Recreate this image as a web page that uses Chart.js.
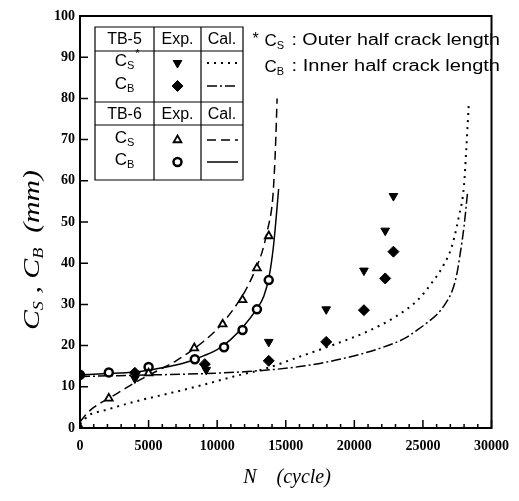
<!DOCTYPE html>
<html><head><meta charset="utf-8">
<script src="https://cdn.jsdelivr.net/npm/chart.js@4/dist/chart.umd.min.js"></script>
<style>html,body{margin:0;padding:0;background:#fff;}#wrap{width:519px;height:501px;}</style>
</head><body><div id="wrap"><canvas id="c" width="519" height="501"></canvas></div>
<script>
// ---- data ----
const xTickValues = [0, 5000, 10000, 15000, 20000, 25000, 30000];
const yTickValues = [0, 10, 20, 30, 40, 50, 60, 70, 80, 90, 100];

// experimental points
const tb5CsExpN = [4000, 9200, 13760, 17950, 20700, 22250, 22850];
const tb5CsExpC = [12.0, 14.1, 20.9, 28.8, 38.2, 47.9, 56.3];
const tb5CbExpN = [0, 4000, 9100, 13760, 17950, 20700, 22250, 22850];
const tb5CbExpC = [12.9, 13.4, 15.5, 16.3, 20.9, 28.6, 36.3, 42.8];
const tb6CsExpN = [0, 2100, 5000, 8330, 10400, 11850, 12900, 13760];
const tb6CsExpC = [0, 7.2, 13.3, 19.4, 25.2, 31.1, 38.8, 46.6];
const tb6CbExpN = [0, 2100, 5000, 8370, 10500, 11850, 12900, 13760];
const tb6CbExpC = [12.9, 13.5, 14.8, 16.7, 19.6, 23.8, 28.8, 35.9];

// calculated curves
const tb5CsCalN = [0, 700, 1700, 4000, 6500, 8900, 11200, 13600, 16000, 18400, 21000, 23000, 24600, 25600, 26500, 27100, 27600, 28000, 28150, 28350];
const tb5CsCalC = [1.0, 3.2, 4.2, 6.4, 8.4, 10.4, 12.5, 14.5, 17.3, 20.1, 23.5, 27.0, 31.0, 35.0, 39.5, 44.0, 51.0, 59.0, 67.0, 79.0];
const tb5CbCalN = [0, 4000, 9000, 12200, 16000, 19100, 22000, 23700, 24600, 25400, 26100, 26700, 27100, 27450, 27750, 28000, 28250];
const tb5CbCalC = [12.5, 12.8, 13.2, 13.7, 14.9, 16.8, 19.5, 21.8, 23.8, 25.8, 27.8, 30.5, 33.0, 37.0, 43.0, 49.0, 57.0];
const tb6CsCalN = [0, 500, 1000, 2100, 3000, 4000, 5000, 6000, 7000, 8000, 9000, 10000, 11000, 12000, 12800, 13300, 13700, 14000, 14100, 14250, 14370];
const tb6CsCalC = [1.5, 3.5, 5.0, 7.2, 9.0, 11.0, 12.8, 14.5, 16.3, 18.5, 21.0, 24.0, 28.0, 33.0, 38.5, 43.0, 48.5, 54.0, 58.0, 68.0, 80.0];
const tb6CbCalN = [0, 2000, 4000, 5000, 6000, 7000, 8000, 9000, 10000, 11000, 12000, 12800, 13400, 13800, 14100, 14300, 14480];
const tb6CbCalC = [12.9, 13.2, 13.6, 14.0, 14.6, 15.3, 16.2, 17.5, 19.0, 21.5, 25.0, 28.5, 32.0, 37.0, 44.0, 51.0, 58.0];

const pts = (xs, ys) => xs.map((x, i) => ({x: x, y: ys[i]}));

const SERIF = '"Liberation Serif", "DejaVu Serif", serif';
const SANS = '"Liberation Sans", Arial, sans-serif';

function setFont(ctx, size, family, style) { ctx.font = (style || '') + ' ' + size + 'px ' + family; }
function subText(ctx, x, y, parts, size, family, style) {
  let cx = x;
  for (const [t, sub] of parts) {
    const fs = sub ? Math.round(size * 0.62) : size;
    setFont(ctx, fs, family, style);
    ctx.fillText(t, cx, sub ? y + size * 0.28 : y);
    cx += ctx.measureText(t).width;
  }
  return cx - x;
}
function measureParts(ctx, parts, size, family, style) {
  let w = 0;
  for (const [t, sub] of parts) {
    const fs = sub ? Math.round(size * 0.62) : size;
    setFont(ctx, fs, family, style);
    w += ctx.measureText(t).width;
  }
  return w;
}
// draw parts starting at x, stretched horizontally to span targetW
function fitText(ctx, x, y, parts, size, family, style, targetW) {
  const w = measureParts(ctx, parts, size, family, style);
  const sx = targetW / w;
  ctx.save();
  ctx.translate(x, y);
  ctx.scale(sx, 1);
  subText(ctx, 0, 0, parts, size, family, style);
  ctx.restore();
}

const decor = {
  id: 'decor',
  afterDraw(chart) {
    const ctx = chart.ctx;
    const a = chart.chartArea;
    const xs = chart.scales.x, ys = chart.scales.y;
    ctx.save();
    ctx.strokeStyle = '#000';
    ctx.fillStyle = '#000';
    // frame
    ctx.lineWidth = 2;
    ctx.strokeRect(a.left, a.top, a.right - a.left, a.bottom - a.top);
    // inside ticks
    ctx.lineWidth = 1.5;
    ctx.beginPath();
    for (let v = 0; v <= 30000; v += 1000) {
      const px = xs.getPixelForValue(v);
      const len = (v % 5000 === 0) ? 8 : 4;
      ctx.moveTo(px, a.bottom); ctx.lineTo(px, a.bottom - len);
    }
    for (const v of yTickValues) {
      const py = ys.getPixelForValue(v);
      ctx.moveTo(a.left, py); ctx.lineTo(a.left + 8, py);
    }
    ctx.stroke();

    // axis titles
    ctx.textBaseline = 'middle';
    ctx.textAlign = 'left';
    const xt = [['N', false], ['    (cycle)', false]];
    const xw = measureParts(ctx, xt, 20, SERIF, 'italic');
    subText(ctx, 287 - xw / 2, 478, xt, 20, SERIF, 'italic');

    ctx.save();
    ctx.translate(33, 250);
    ctx.rotate(-Math.PI / 2);
    const yt = [['C', false], ['S', true], [' , ', false], ['C', false], ['B', true], ['  (mm)', false]];
    fitText(ctx, -80, 0, yt, 23, SERIF, 'italic', 160);
    ctx.restore();

    // annotation at right
    setFont(ctx, 16, SANS, '');
    const c1 = [['C', false], ['S', true]];
    const c2 = [['C', false], ['B', true]];
    const w1 = measureParts(ctx, c1, 17, SANS, '');
    const w2 = measureParts(ctx, c2, 17, SANS, '');
    subText(ctx, 284 - w1, 41, c1, 17, SANS, '');
    subText(ctx, 284 - w2, 67, c2, 17, SANS, '');
    setFont(ctx, 16, SANS, '');
    ctx.fillText('*', 284 - w1 - 12, 40);
    fitText(ctx, 286, 41, [[' : Outer half crack length', false]], 16, SANS, '', 214);
    fitText(ctx, 286, 67, [[' : Inner half crack length', false]], 16, SANS, '', 214);

    // legend table
    const L = 95, C1 = 154, C2 = 201, R = 243;
    const T = 27, H1 = 51, S1 = 102, H2 = 125, B = 180;
    ctx.lineWidth = 1.2;
    ctx.beginPath();
    ctx.rect(L, T, R - L, B - T);
    ctx.moveTo(L, H1); ctx.lineTo(R, H1);
    ctx.moveTo(L, S1); ctx.lineTo(R, S1);
    ctx.moveTo(L, H2); ctx.lineTo(R, H2);
    ctx.moveTo(C1, T); ctx.lineTo(C1, B);
    ctx.moveTo(C2, T); ctx.lineTo(C2, B);
    ctx.stroke();

    ctx.textAlign = 'center';
    setFont(ctx, 16, SANS, '');
    const cc1 = (L + C1) / 2, cc2 = (C1 + C2) / 2, cc3 = (C2 + R) / 2;
    ctx.fillText('TB-5', cc1, (T + H1) / 2 + 1);
    ctx.fillText('Exp.', cc2, (T + H1) / 2 + 1);
    ctx.fillText('Cal.', cc3, (T + H1) / 2 + 1);
    ctx.fillText('TB-6', cc1, (S1 + H2) / 2 + 1);
    ctx.fillText('Exp.', cc2, (S1 + H2) / 2 + 1);
    ctx.fillText('Cal.', cc3, (S1 + H2) / 2 + 1);

    ctx.textAlign = 'left';
    const rows = [
      {y: 63, sub: 'S', star: true, ds: 0},
      {y: 86, sub: 'B', star: false, ds: 1},
      {y: 140, sub: 'S', star: false, ds: 2},
      {y: 162, sub: 'B', star: false, ds: 3}
    ];
    const ptCfg = [
      {pointStyle: 'triangle', rotation: 180, radius: 5, borderWidth: 1, fill: '#000'},
      {pointStyle: 'rectRot', rotation: 0, radius: 5.5, borderWidth: 1, fill: '#000'},
      {pointStyle: 'triangle', rotation: 0, radius: 4.5, borderWidth: 1.8, fill: '#fff'},
      {pointStyle: 'circle', rotation: 0, radius: 4, borderWidth: 2.5, fill: '#fff'}
    ];
    const lineCfg = [
      {dash: [2, 5], w: 2},
      {dash: [10, 3, 2, 3], w: 1.5},
      {dash: [9, 5], w: 1.5},
      {dash: [], w: 1.5}
    ];
    for (const r of rows) {
      const parts = [['C', false], [r.sub, true]];
      const w = measureParts(ctx, parts, 17, SANS, '');
      const x0 = cc1 - w / 2;
      subText(ctx, x0, r.y - 2, parts, 17, SANS, '');
      if (r.star) {
        setFont(ctx, 11, SANS, '');
        ctx.fillText('*', x0 + w + 1, r.y - 9);
      }
      const p = ptCfg[r.ds];
      ctx.fillStyle = p.fill; ctx.strokeStyle = '#000'; ctx.lineWidth = p.borderWidth;
      Chart.helpers.drawPoint(ctx, p, cc2, r.y);
      ctx.fillStyle = '#000';
      const lc = lineCfg[r.ds];
      ctx.save();
      ctx.lineWidth = lc.w; ctx.setLineDash(lc.dash);
      ctx.beginPath(); ctx.moveTo(C2 + 6, r.y); ctx.lineTo(R - 5, r.y); ctx.stroke();
      ctx.restore();
    }
    ctx.restore();
  }
};

const lineBase = {showLine: true, pointRadius: 0, pointHoverRadius: 0, fill: false, borderColor: '#000',
  backgroundColor: '#000', cubicInterpolationMode: 'monotone'};

new Chart(document.getElementById('c'), {
  type: 'scatter',
  data: {
    datasets: [
      {label: 'TB-5 CS Exp.', data: pts(tb5CsExpN, tb5CsExpC), pointStyle: 'triangle', rotation: 180, pointRadius: 5,
        backgroundColor: '#000', borderColor: '#000', borderWidth: 1},
      {label: 'TB-5 CB Exp.', data: pts(tb5CbExpN, tb5CbExpC), pointStyle: 'rectRot', pointRadius: 5.5,
        backgroundColor: '#000', borderColor: '#000', borderWidth: 1},
      {label: 'TB-6 CS Exp.', data: pts(tb6CsExpN, tb6CsExpC), pointStyle: 'triangle', pointRadius: 4.5,
        backgroundColor: '#fff', borderColor: '#000', borderWidth: 1.8},
      {label: 'TB-6 CB Exp.', data: pts(tb6CbExpN, tb6CbExpC), pointStyle: 'circle', pointRadius: 4,
        backgroundColor: '#fff', borderColor: '#000', borderWidth: 2.5},
      Object.assign({label: 'TB-5 CS Cal.', data: pts(tb5CsCalN, tb5CsCalC), borderWidth: 2, borderDash: [2, 5]}, lineBase),
      Object.assign({label: 'TB-5 CB Cal.', data: pts(tb5CbCalN, tb5CbCalC), borderWidth: 1.5, borderDash: [10, 3, 2, 3]}, lineBase),
      Object.assign({label: 'TB-6 CS Cal.', data: pts(tb6CsCalN, tb6CsCalC), borderWidth: 1.5, borderDash: [9, 5]}, lineBase),
      Object.assign({label: 'TB-6 CB Cal.', data: pts(tb6CbCalN, tb6CbCalC), borderWidth: 1.5}, lineBase)
    ]
  },
  options: {
    responsive: false,
    animation: false,
    devicePixelRatio: 1,
    events: [],
    layout: {padding: {top: 16, right: 22, left: 0, bottom: 0}},
    plugins: {legend: {display: false}, tooltip: {enabled: false}},
    scales: {
      x: {
        type: 'linear', min: 0, max: 30000,
        afterBuildTicks: (s) => { s.ticks = xTickValues.map(v => ({value: v})); },
        afterFit: (s) => { s.height = 73; },
        grid: {display: false, drawTicks: false},
        border: {display: false},
        ticks: {padding: 10, color: '#000', font: {family: SERIF, size: 14, weight: 'bold'}, maxRotation: 0,
          callback: (v) => String(v)}
      },
      y: {
        type: 'linear', min: 0, max: 100,
        afterBuildTicks: (s) => { s.ticks = yTickValues.map(v => ({value: v})); },
        afterFit: (s) => { s.width = 80; },
        grid: {display: false, drawTicks: false},
        border: {display: false},
        ticks: {padding: 5, color: '#000', font: {family: SERIF, size: 14, weight: 'bold'},
          callback: (v) => String(v)}
      }
    }
  },
  plugins: [decor]
});
</script>
</body></html>
